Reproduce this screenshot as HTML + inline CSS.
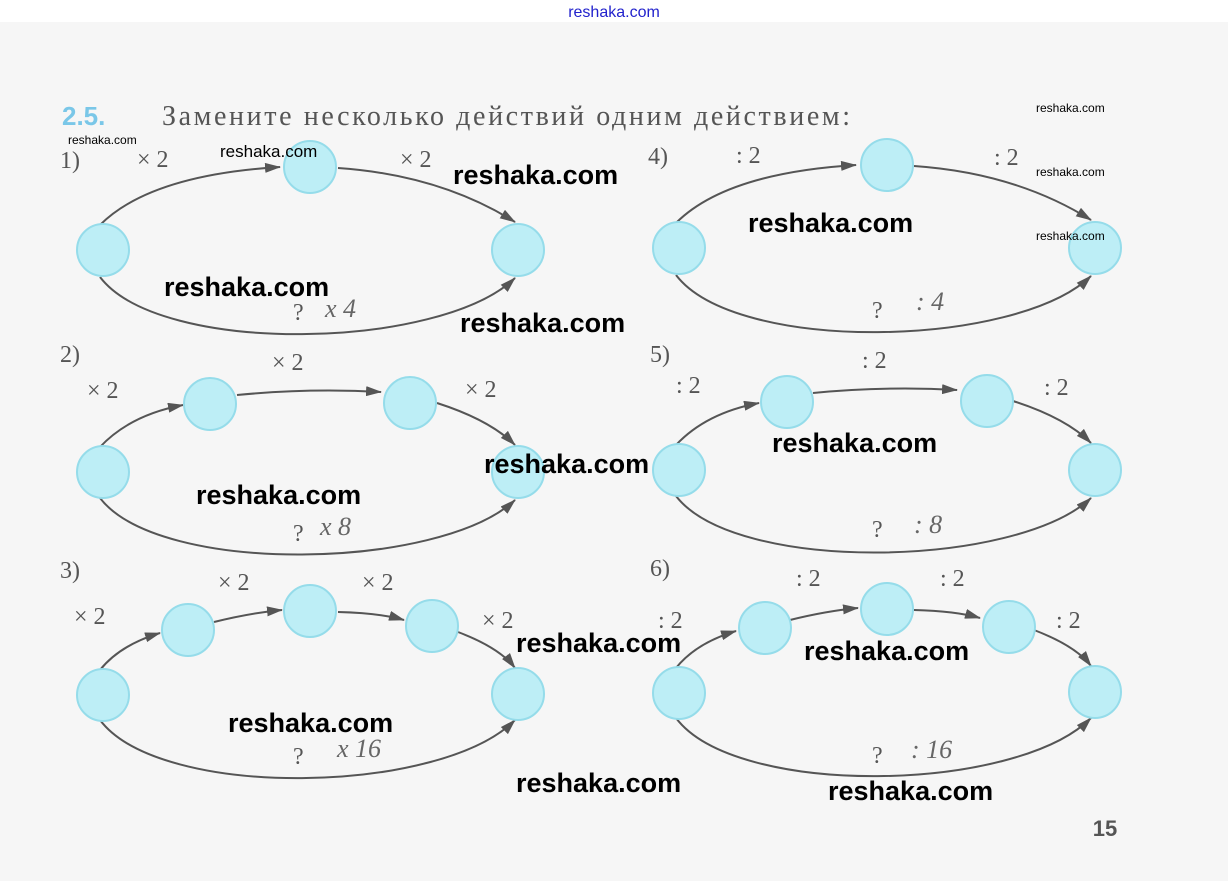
<!DOCTYPE html>
<html><head><meta charset="utf-8"><style>
html,body{margin:0;padding:0;width:1228px;height:881px;overflow:hidden;background:#f6f6f6}
svg{display:block}
.l{font-family:"Liberation Serif",serif;font-size:24px;fill:#555}
.h{font-family:"Liberation Serif",serif;font-size:26px;fill:#666;font-style:italic}
.w{font-family:"Liberation Sans",sans-serif;font-weight:bold;font-size:27px;fill:#000}
.s{font-family:"Liberation Sans",sans-serif;font-size:12px;fill:#000}
.m{font-family:"Liberation Sans",sans-serif;font-size:15px;fill:#000}
path{fill:none;stroke:#555;stroke-width:2}
circle{fill:#bdeef6;stroke:#95dcea;stroke-width:2}
</style></head><body>
<svg width="1228" height="881" xmlns="http://www.w3.org/2000/svg">
<defs><marker id="a" markerWidth="16" markerHeight="10" refX="15" refY="5" orient="auto" markerUnits="userSpaceOnUse"><polygon points="0,0 16,5 0,10" fill="#555"/></marker></defs>
<rect x="0" y="0" width="1228" height="22" fill="#fff"/>
<text x="614" y="17" text-anchor="middle" font-family="Liberation Sans,sans-serif" font-size="16" fill="#2222cc">reshaka.com</text>
<text x="62" y="125" font-family="Liberation Sans,sans-serif" font-weight="bold" font-size="26" fill="#7ac7e8">2.5.</text>
<text x="162" y="125" font-family="Liberation Serif,serif" font-size="28" fill="#555" textLength="688" lengthAdjust="spacing">Замените несколько действий одним действием:</text>
<text x="1105" y="836" font-family="Liberation Sans,sans-serif" font-weight="bold" font-size="22" fill="#555" text-anchor="middle">15</text>

<!-- 1 -->
<g>
<text class="l" x="60" y="168">1)</text>
<path d="M100,225 Q150,175 280,167" marker-end="url(#a)"/>
<path d="M338,168 Q440,175 515,222" marker-end="url(#a)"/>
<path d="M100,277 C160,356 440,350 515,278" marker-end="url(#a)"/>
<circle cx="103" cy="250" r="26"/><circle cx="310" cy="167" r="26"/><circle cx="518" cy="250" r="26"/>
<text class="l" x="137" y="167">× 2</text><text class="l" x="400" y="167">× 2</text>
<text class="l" x="293" y="320">?</text><text class="h" x="325" y="317">x 4</text>
</g>
<!-- 4 -->
<g transform="translate(576,-2)">
<text class="l" x="72" y="166">4)</text>
<path d="M100,225 Q150,175 280,167" marker-end="url(#a)"/>
<path d="M338,168 Q440,175 515,222" marker-end="url(#a)"/>
<path d="M100,277 C160,356 440,350 515,278" marker-end="url(#a)"/>
<circle cx="103" cy="250" r="26"/><circle cx="311" cy="167" r="26"/><circle cx="519" cy="250" r="26"/>
<text class="l" x="160" y="165">: 2</text><text class="l" x="418" y="167">: 2</text>
<text class="l" x="296" y="320">?</text><text class="h" x="340" y="312">: 4</text>
</g>
<!-- 2 -->
<g>
<text class="l" x="60" y="362">2)</text>
<path d="M100,447 Q130,415 183,405" marker-end="url(#a)"/>
<path d="M237,395 Q310,388 381,392" marker-end="url(#a)"/>
<path d="M437,403 Q490,420 515,445" marker-end="url(#a)"/>
<path d="M100,498 C160,576 440,570 515,500" marker-end="url(#a)"/>
<circle cx="103" cy="472" r="26"/><circle cx="210" cy="404" r="26"/><circle cx="410" cy="403" r="26"/><circle cx="518" cy="472" r="26"/>
<text class="l" x="87" y="398">× 2</text><text class="l" x="272" y="370">× 2</text><text class="l" x="465" y="397">× 2</text>
<text class="l" x="293" y="541">?</text><text class="h" x="320" y="535">x 8</text>
</g>
<!-- 5 -->
<g transform="translate(576,-2)">
<text class="l" x="74" y="364">5)</text>
<path d="M100,447 Q130,415 183,405" marker-end="url(#a)"/>
<path d="M237,395 Q310,388 381,392" marker-end="url(#a)"/>
<path d="M437,403 Q490,420 515,445" marker-end="url(#a)"/>
<path d="M100,498 C160,576 440,570 515,500" marker-end="url(#a)"/>
<circle cx="103" cy="472" r="26"/><circle cx="211" cy="404" r="26"/><circle cx="411" cy="403" r="26"/><circle cx="519" cy="472" r="26"/>
<text class="l" x="100" y="395">: 2</text><text class="l" x="286" y="370">: 2</text><text class="l" x="468" y="397">: 2</text>
<text class="l" x="296" y="539">?</text><text class="h" x="338" y="535">: 8</text>
</g>
<!-- 3 -->
<g>
<text class="l" x="60" y="578">3)</text>
<path d="M100,670 Q120,645 160,633" marker-end="url(#a)"/>
<path d="M214,622 Q250,613 282,610" marker-end="url(#a)"/>
<path d="M338,612 Q380,613 404,620" marker-end="url(#a)"/>
<path d="M458,632 Q500,648 515,668" marker-end="url(#a)"/>
<path d="M100,720 C160,800 440,795 515,720" marker-end="url(#a)"/>
<circle cx="103" cy="695" r="26"/><circle cx="188" cy="630" r="26"/><circle cx="310" cy="611" r="26"/><circle cx="432" cy="626" r="26"/><circle cx="518" cy="694" r="26"/>
<text class="l" x="74" y="624">× 2</text><text class="l" x="218" y="590">× 2</text><text class="l" x="362" y="590">× 2</text><text class="l" x="482" y="628">× 2</text>
<text class="l" x="293" y="764">?</text><text class="h" x="337" y="757">x 16</text>
</g>
<!-- 6 -->
<g transform="translate(576,-2)">
<text class="l" x="74" y="578">6)</text>
<path d="M100,670 Q120,645 160,633" marker-end="url(#a)"/>
<path d="M214,622 Q250,613 282,610" marker-end="url(#a)"/>
<path d="M338,612 Q380,613 404,620" marker-end="url(#a)"/>
<path d="M458,632 Q500,648 515,668" marker-end="url(#a)"/>
<path d="M100,720 C160,800 440,795 515,720" marker-end="url(#a)"/>
<circle cx="103" cy="695" r="26"/><circle cx="189" cy="630" r="26"/><circle cx="311" cy="611" r="26"/><circle cx="433" cy="629" r="26"/><circle cx="519" cy="694" r="26"/>
<text class="l" x="82" y="630">: 2</text><text class="l" x="220" y="588">: 2</text><text class="l" x="364" y="588">: 2</text><text class="l" x="480" y="630">: 2</text>
<text class="l" x="296" y="765">?</text><text class="h" x="335" y="760">: 16</text>
</g>

<!-- watermarks -->
<text class="s" x="68" y="144">reshaka.com</text>
<text class="m" x="220" y="157" style="font-size:17px">reshaka.com</text>
<text class="s" x="1036" y="112">reshaka.com</text>
<text class="s" x="1036" y="176">reshaka.com</text>
<text class="s" x="1036" y="240">reshaka.com</text>
<text class="w" x="453" y="184">reshaka.com</text>
<text class="w" x="748" y="232">reshaka.com</text>
<text class="w" x="164" y="296">reshaka.com</text>
<text class="w" x="460" y="332">reshaka.com</text>
<text class="w" x="772" y="452">reshaka.com</text>
<text class="w" x="484" y="473">reshaka.com</text>
<text class="w" x="196" y="504">reshaka.com</text>
<text class="w" x="516" y="652">reshaka.com</text>
<text class="w" x="804" y="660">reshaka.com</text>
<text class="w" x="228" y="732">reshaka.com</text>
<text class="w" x="516" y="792">reshaka.com</text>
<text class="w" x="828" y="800">reshaka.com</text>
</svg>
</body></html>
